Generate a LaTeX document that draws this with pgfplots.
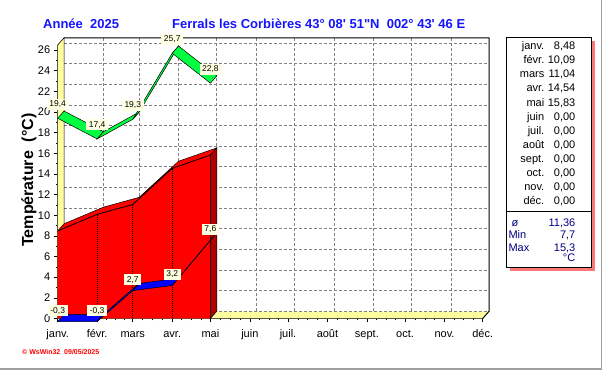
\documentclass[border=0pt]{standalone}
\usepackage{fontspec}
\setmainfont{Liberation Sans}
\newfontfamily\plainsans{Liberation Sans}[Ligatures=TeXOff]
\usepackage{pgfplots}
\pgfplotsset{compat=1.18}
\definecolor{wallyellow}{RGB}{255,255,160}
\definecolor{lblbg}{RGB}{255,255,225}
\definecolor{mgreen}{RGB}{0,255,64}
\definecolor{mred}{RGB}{255,0,0}
\definecolor{dred}{RGB}{176,0,0}
\definecolor{mblue}{RGB}{0,0,255}
\definecolor{titleblue}{RGB}{20,20,255}
\definecolor{navy}{RGB}{0,0,128}
\definecolor{gridgray}{RGB}{128,128,128}
\definecolor{shadowred}{RGB}{255,120,120}
\definecolor{framegray}{RGB}{160,160,160}
\begin{document}
\begin{tikzpicture}
\fill[white] (0bp,0bp) rectangle (603bp,370bp);
\begin{axis}[
  at={(57.7bp,51.5bp)}, anchor=south west,
  scale only axis, width=425bp, height=273.5bp,
  xmin=0, xmax=334, ymin=0, ymax=26.5,
  clip=false,
  axis x line*=bottom, axis y line*=left,
  axis line style={-, line width=1.6bp, black},
  tick align=outside,
  major tick length=4bp, minor tick length=2bp,
  tick style={black, line width=0.6bp},
  xtick={0,31,59,90,120,151,181,212,243,273,304,334},
  xticklabels={janv.,févr.,mars,avr.,mai,juin,juil.,août,sept.,oct.,nov.,déc.},
  minor xtick={7.75,15.5,23.25,38,45,52,66.75,74.5,82.25,97.5,105,112.5,127.75,135.5,143.25,158.5,166,173.5,188.75,196.5,204.25,219.75,227.5,235.25,250.5,258,265.5,280.75,288.5,296.25,311.5,319,326.5},
  ytick={0,2,4,6,8,10,12,14,16,18,20,22,24,26},
  minor ytick={1,3,5,7,9,11,13,15,17,19,21,23,25},
  ticklabel style={font=\fontsize{11bp}{13bp}\selectfont},
  xticklabel style={anchor=base, yshift=-15.5bp},
  /pgf/number format/assume math mode=true,
]
% walls
\fill[wallyellow] (axis cs:0,0) -- (axis cs:334,0) -- (axis cs:339,0.7) -- (axis cs:5,0.7) -- cycle;
\fill[wallyellow] (axis cs:0,0) -- (axis cs:0,26.5) -- (axis cs:5,27.2) -- (axis cs:5,0.7) -- cycle;
% back grid
\pgfplotsinvokeforeach{0.7,2.7,4.7,6.7,8.7,10.7,12.7,14.7,16.7,18.7,20.7,22.7,24.7,26.7}{
  \draw[gridgray, line width=0.6bp, dash pattern=on 3bp off 2bp] (axis cs:5,#1) -- (axis cs:339,#1);
}
\pgfplotsinvokeforeach{36,64,95,125,156,186,217,248,278,309}{
  \draw[gridgray, line width=0.6bp, dash pattern=on 3bp off 2bp] (axis cs:#1,0.7) -- (axis cs:#1,27.2);
}
\draw[black, line width=0.6bp] (axis cs:5,0.7) -- (axis cs:5,27.2) -- (axis cs:0,26.5);
\draw[black, line width=1bp] (axis cs:5,27.2) -- (axis cs:339,27.2) -- (axis cs:339,0.7) -- (axis cs:334,0);
% mean (red area)
\addplot[fill=mred, draw=black, line width=0.5bp] coordinates {(0,8.48) (31,10.09) (59,11.04) (90,14.54) (120,15.83) (125,16.53) (95,15.24) (64,11.74) (36,10.79) (5,9.18)} -- cycle;
\addplot[fill=dred, draw=black, line width=0.5bp] coordinates {(120,0) (120,15.83) (125,16.53) (125,0.7)} -- cycle;
\addplot[fill=mred, draw=none] coordinates {(0,0) (0,8.48) (31,10.09) (59,11.04) (90,14.54) (120,15.83) (120,0)} -- cycle;
\addplot[black, line width=0.7bp] coordinates {(0,8.48) (31,10.09) (59,11.04) (90,14.54) (120,15.83) (120,0)};
\addplot[ycomb, black, line width=0.6bp, dash pattern=on 1bp off 1bp] coordinates {(31,10.09) (59,11.04) (90,14.54)};
% min (blue ribbon)
\addplot[fill=mblue, draw=black, line width=0.5bp] coordinates {(0,-0.3) (31,-0.3) (36,0.4) (5,0.4)} -- cycle;
\addplot[fill=mblue, draw=black, line width=0.5bp] coordinates {(31,-0.3) (59,2.7) (64,3.4) (36,0.4)} -- cycle;
\addplot[fill=mblue, draw=black, line width=0.5bp] coordinates {(59,2.7) (90,3.2) (95,3.9) (64,3.4)} -- cycle;
\addplot[fill=mblue, draw=black, line width=0.5bp] coordinates {(90,3.2) (120,7.6) (125,8.3) (95,3.9)} -- cycle;
% max (green ribbon)
\addplot[fill=mgreen, draw=black, line width=0.5bp] coordinates {(0,19.4) (31,17.4) (36,18.1) (5,20.1)} -- cycle;
\addplot[fill=mgreen, draw=black, line width=0.5bp] coordinates {(31,17.4) (59,19.3) (64,20.0) (36,18.1)} -- cycle;
\addplot[fill=mgreen, draw=black, line width=0.5bp] coordinates {(59,19.3) (90,25.7) (95,26.4) (64,20.0)} -- cycle;
\addplot[fill=mgreen, draw=black, line width=0.5bp] coordinates {(90,25.7) (120,22.8) (125,23.5) (95,26.4)} -- cycle;
% value labels
\addplot[draw=none, mark=none, point meta=explicit symbolic, nodes near coords,
  nodes near coords style={anchor=center, yshift=14bp, fill=lblbg, inner xsep=2.5bp, inner ysep=2bp, font=\fontsize{8.5bp}{9bp}\selectfont, text=black}]
  coordinates {(0,19.4) [19{,}4] (31,17.4) [17{,}4] (59,19.3) [19{,}3] (90,25.7) [25{,}7] (120,22.8) [22{,}8]};
\addplot[draw=none, mark=none, point meta=explicit symbolic, nodes near coords,
  nodes near coords style={anchor=center, yshift=11bp, fill=lblbg, inner xsep=2.5bp, inner ysep=2bp, font=\fontsize{8.5bp}{9bp}\selectfont, text=black}]
  coordinates {(0,-0.3) [-0{,}3] (31,-0.3) [-0{,}3] (59,2.7) [2{,}7] (90,3.2) [3{,}2] (120,7.6) [7{,}6]};
\end{axis}
% titles
\node[anchor=base west, text=titleblue, font=\plainsans\bfseries\fontsize{13bp}{15bp}\selectfont, inner sep=0pt] at (43bp,341bp) {Année\ \ 2025};
\node[anchor=base west, text=titleblue, font=\plainsans\bfseries\fontsize{13bp}{15bp}\selectfont, inner sep=0pt] at (172bp,341bp) {Ferrals les Corbières 43° 08' 51"N\ \ 002° 43' 46 E};
\node[rotate=90, anchor=base, font=\bfseries\fontsize{16bp}{18bp}\selectfont, inner sep=0pt] at (33bp,190bp) {Température\ \ (°C)};
% side table
\fill[shadowred] (510bp,99bp) rectangle (595bp,329bp);
\fill[white] (506bp,103bp) rectangle (591bp,332.7bp);
\draw[black, line width=0.8bp] (506bp,103bp) rectangle (591bp,332.7bp);
\draw[black, line width=0.8bp] (506bp,158.3bp) -- (591bp,158.3bp);
\foreach \m/\v/\yy in {janv./8{,}48/320.3, févr./10{,}09/306.2, mars/11{,}04/292.1, avr./14{,}54/278.0, mai/15{,}83/263.9, juin/0{,}00/249.8, juil./0{,}00/235.7, août/0{,}00/221.6, sept./0{,}00/207.5, oct./0{,}00/193.4, nov./0{,}00/179.3, déc./0{,}00/165.2}{
  \node[anchor=base east, inner sep=0pt, font=\fontsize{11bp}{13bp}\selectfont] at (544.5bp,\yy bp) {\m};
  \node[anchor=base east, inner sep=0pt, font=\fontsize{11bp}{13bp}\selectfont] at (575.5bp,\yy bp) {\v};
}
\begin{scope}[every node/.style={inner sep=0pt, text=navy, font=\fontsize{11bp}{13bp}\selectfont}]
\node[anchor=base west] at (511.5bp,143.3bp) {ø};
\node[anchor=base east] at (575.5bp,143.3bp) {11,36};
\node[anchor=base west] at (508.3bp,131bp) {Min};
\node[anchor=base east] at (575.5bp,131bp) {7,7};
\node[anchor=base west] at (508.3bp,118.7bp) {Max};
\node[anchor=base east] at (575.5bp,118.7bp) {15,3};
\node[anchor=base east] at (575.5bp,108.3bp) {°C};
\end{scope}
% credit
\node[anchor=west, inner sep=0pt, text=mred, font=\bfseries\fontsize{7bp}{8bp}\selectfont] at (22bp,18bp) {\textcopyright\ WsWin32\ \ 09/05/2025};
% frame
\draw[framegray, line width=1.2bp] (601.5bp,370bp) -- (601.5bp,1bp) -- (0bp,1bp);
\pgfresetboundingbox
\path[use as bounding box] (0bp,0bp) rectangle (603bp,370bp);
\end{tikzpicture}
\end{document}
